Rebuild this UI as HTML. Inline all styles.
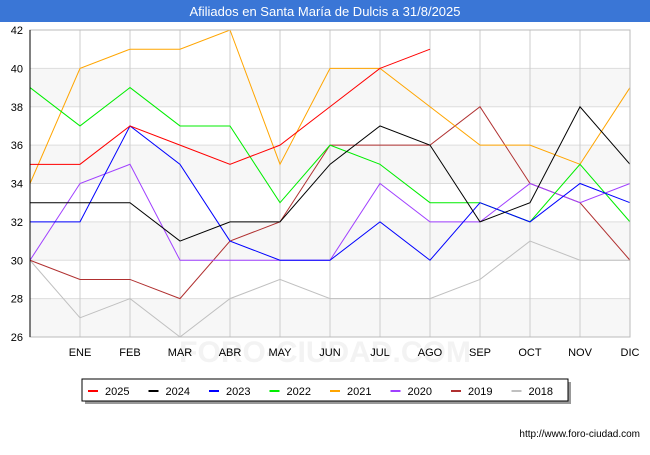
<!DOCTYPE html>
<html><head><meta charset="utf-8"><style>
body{margin:0;background:#fff;font-family:"Liberation Sans",sans-serif}
</style></head><body>
<svg width="650" height="450" xmlns="http://www.w3.org/2000/svg" font-family="Liberation Sans, sans-serif">
<rect x="0" y="0" width="650" height="22" fill="#3a76d6"/>
<text x="325" y="16" text-anchor="middle" fill="#fff" font-size="13">Afiliados en Santa María de Dulcis a 31/8/2025</text>
<g id="bands"></g><g id="grid"></g>
<text x="325" y="362" text-anchor="middle" font-size="30" fill="#f3f3f3" font-weight="bold">FORO-CIUDAD.COM</text>
<g id="series"></g><g id="axes"></g>
<rect x="85" y="382" width="486" height="22" fill="#999"/>
<rect x="82" y="379" width="486" height="22" fill="#fff" stroke="#000"/>
<g id="legend"></g>
<text x="640" y="437" text-anchor="end" font-size="10" fill="#000">http://www.foro-ciudad.com</text>
</svg>
<script>
const months=["","ENE","FEB","MAR","ABR","MAY","JUN","JUL","AGO","SEP","OCT","NOV","DIC"];
const yTicks=[26,28,30,32,34,36,38,40,42];
const years=["2025","2024","2023","2022","2021","2020","2019","2018"];
const colors=["#ff0000","#000000","#0000ff","#00ee00","#ffa500","#a040ff","#b03030","#c0c0c0"];
const s2025=[35,35,37,36,35,36,38,40,41];
const s2024=[33,33,33,31,32,32,35,37,36,32,33,38,35];
const s2023=[32,32,37,35,31,30,30,32,30,33,32,34,33];
const s2022=[39,37,39,37,37,33,36,35,33,33,32,35,32];
const s2021=[34,40,41,41,42,35,40,40,38,36,36,35,39];
const s2020=[30,34,35,30,30,30,30,34,32,32,34,33,34];
const s2019=[30,29,29,28,31,32,36,36,36,38,34,33,30];
const s2018=[30,27,28,26,28,29,28,28,28,29,31,30,30];
const allSeries=[s2025,s2024,s2023,s2022,s2021,s2020,s2019,s2018];
const NS="http://www.w3.org/2000/svg";
const X0=30,X1=630,Y0=337,Y1=30;
const xs=i=>X0+(X1-X0)*i/12;
const ys=v=>Y0-(v-26)/(42-26)*(Y0-Y1);
function mk(t,a,p){const e=document.createElementNS(NS,t);for(const k in a)e.setAttribute(k,a[k]);document.getElementById(p).appendChild(e);return e;}
for(let i=0;i<yTicks.length-1;i++){ if(i%2==0){
 const b=mk("rect",{x:X0,y:ys(yTicks[i+1]),width:X1-X0,height:ys(yTicks[i])-ys(yTicks[i+1]),fill:"#f7f7f7"},"bands");
 
 }}
yTicks.forEach(v=>{
 const l=mk("line",{x1:X0,x2:X1,y1:ys(v),y2:ys(v),stroke:"#ddd"},"grid");
 
 
 const t=mk("text",{x:X0-7,y:ys(v)+4,"text-anchor":"end","font-size":"11"},"axes");
 t.textContent=v;
 
 
});
months.forEach((m,i)=>{
 if(i>0){const l=mk("line",{x1:xs(i),x2:xs(i),y1:Y1,y2:Y0,stroke:"#ccc"},"grid");
 
 }
 const t=mk("text",{x:xs(i),y:356,"text-anchor":"middle","font-size":"11"},"axes");
 t.textContent=m;
 
 
});
const fr=mk("rect",{x:X0,y:Y1,width:X1-X0,height:Y0-Y1,fill:"none",stroke:"#bbb"},"axes");


const ax=mk("line",{x1:X0,x2:X0,y1:Y1,y2:Y0,stroke:"#000"},"axes");


for(let k=allSeries.length-1;k>=0;k--){
 const pts=allSeries[k].map((v,i)=>xs(i)+","+ys(v)).join(" ");
 const p=mk("polyline",{points:pts,fill:"none",stroke:colors[k],"stroke-width":"1"},"series");
 
 
}
years.forEach((y,k)=>{
 const x=88+k*60.5;
 const l=mk("line",{x1:x,x2:x+10,y1:391,y2:391,stroke:colors[k],"stroke-width":"2"},"legend");
 
 
 const t=mk("text",{x:x+17,y:395,"font-size":"11"},"legend");
 t.textContent=y;
 
 
});
</script>
</body></html>
